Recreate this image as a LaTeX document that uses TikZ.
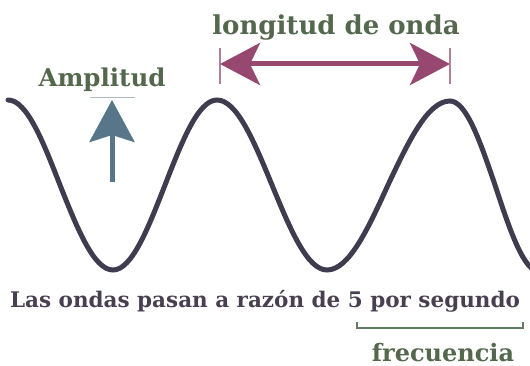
\documentclass[tikz,border=0pt]{standalone}
\usepackage{fontspec}
\setmainfont{DejaVu Serif}
\usetikzlibrary{arrows.meta}
\definecolor{wavec}{RGB}{62,60,78}
\definecolor{maroonc}{RGB}{150,72,112}
\definecolor{bluec}{RGB}{88,118,138}
\definecolor{greent}{RGB}{84,104,78}
\definecolor{maint}{RGB}{72,64,80}
\definecolor{bracketc}{RGB}{96,124,96}
\tikzset{
  wave/.style={draw=wavec,line width=5pt,line cap=round},
  lbl/.style={inner sep=0pt,anchor=base},
  tick/.style={draw=maroonc!70,line width=1.2pt},
}
\begin{document}
\begin{tikzpicture}[x=1pt,y=-1pt]
\useasboundingbox (0,0) rectangle (530,366);
\begin{scope}
\clip (0,0) rectangle (530,366);
\draw[wave] (8,100) cos (60,185) sin (113,270) cos (165,185) sin (217,100)
  cos (272,185) sin (327,270) cos (388,185) sin (450,101)
  cos (495,185) sin (540,272);
\end{scope}
% wavelength
\coordinate (wl) at (220,64);
\coordinate (wr) at (450,64);
\draw[tick] (220,48) -- (220,84);
\draw[tick] (450,48) -- (450,84);
\draw[draw=maroonc,line width=5pt,{Stealth[length=40pt,width=42pt,inset=10pt]}-{Stealth[length=40pt,width=42pt,inset=10pt]}] (wl) -- (wr);
\node[lbl,text=greent,font=\bfseries\fontsize{26}{26}\selectfont] (long) at (336,35) {longitud de onda};
% amplitude
\node[lbl,text=greent,font=\bfseries\fontsize{24.5}{24.5}\selectfont] (amp) at (102,87) {Amplitud};
\draw[bluec!50,line width=1pt] (90,98) -- (135,98);
\coordinate (ab) at (112,182);
\coordinate (at) at (112,100);
\draw[draw=bluec,fill=bluec,line width=5pt,-{Stealth[length=42pt,width=45pt,inset=7pt]}] (ab) -- (at);
% bottom text
\node[lbl,text=maint,font=\bfseries\fontsize{21.5}{21.5}\selectfont] (txt) at (265,307) {Las ondas pasan a razón de 5 por segundo};
\draw[bracketc,line width=1.3pt] (357,322) -- (357,328) -- (523,328) -- (523,322);
\node[lbl,text=greent,font=\bfseries\fontsize{24}{24}\selectfont] (freq) at (443,361) {frecuencia};
\end{tikzpicture}
\end{document}
